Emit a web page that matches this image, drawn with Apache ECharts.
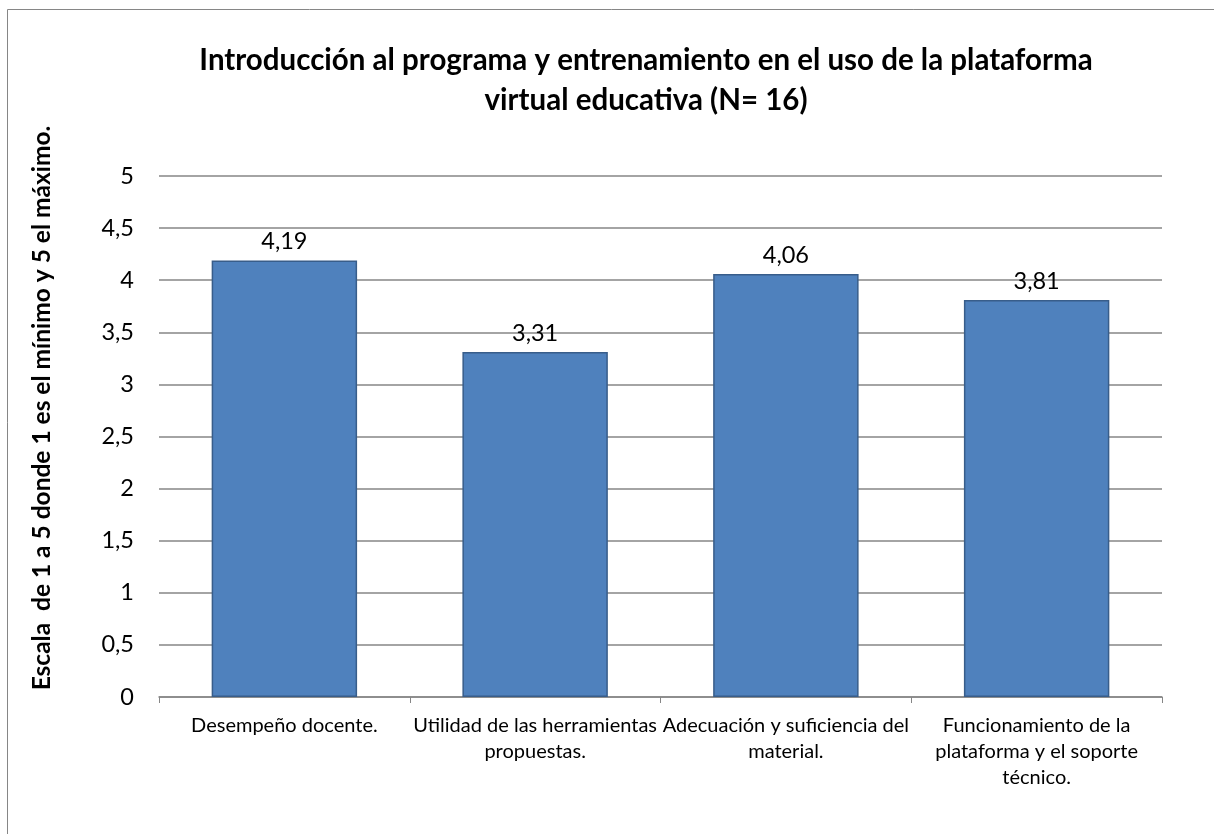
<!DOCTYPE html>
<html><head><meta charset="utf-8">
<script src="https://cdn.jsdelivr.net/npm/echarts@6/dist/echarts.min.js"></script>
<style>html,body{margin:0;padding:0;background:#fff}#c{width:1214px;height:834px}</style>
</head><body><div id="c"></div>
<script>
const titleText = 'Introducción al programa y entrenamiento en el uso de la plataforma\nvirtual educativa (N= 16)';
const yAxisName = 'Escala  de 1 a 5 donde 1 es el mínimo y 5 el máximo.';
const categories = ['Desempeño docente.', 'Utilidad de las herramientas\npropuestas.', 'Adecuación y suficiencia del\nmaterial.', 'Funcionamiento de la\nplataforma y el soporte\ntécnico.'];
const values = [4.19, 3.31, 4.06, 3.81];
const FONT = 'Lato';
const chart = echarts.init(document.getElementById('c'));
chart.setOption({
  backgroundColor: '#fff',
  animation: false,
  title: {
    text: titleText, left: 641, top: 35, textAlign: 'center',
    textStyle: {fontFamily: FONT, fontSize: 29.5, fontWeight: 'bold', color: '#000', lineHeight: 40}
  },
  graphic: [
    {type: 'rect', shape: {x: 7.5, y: 9.5, width: 1230, height: 850}, style: {fill: 'none', stroke: '#868686', lineWidth: 1}, silent: true, z: -1},
    {type: 'text', x: 42, y: 408, rotation: Math.PI / 2,
     style: {text: yAxisName, fontFamily: FONT, fontSize: 24.5, fontWeight: 'bold', fill: '#000', align: 'center', verticalAlign: 'middle'}}
  ],
  grid: {left: 159, right: 52, top: 176, bottom: 137, containLabel: false},
  xAxis: {
    type: 'category', data: categories,
    axisLine: {lineStyle: {color: '#868686', width: 1.5}},
    axisTick: {show: true, length: 6, lineStyle: {color: '#868686'}},
    axisLabel: {fontFamily: FONT, fontSize: 20, color: '#000', lineHeight: 26, margin: 16, interval: 0}
  },
  yAxis: {
    type: 'value', min: 0, max: 5, interval: 0.5,
    axisLine: {show: false}, axisTick: {show: false},
    splitLine: {lineStyle: {color: '#868686', width: 1.5}},
    axisLabel: {fontFamily: FONT, fontSize: 23.5, color: '#000', margin: 25,
      formatter: v => String(v).replace('.', ',')}
  },
  series: [{
    type: 'bar', data: values, barWidth: '58%',
    itemStyle: {color: '#4F81BD', borderColor: '#385D8A', borderWidth: 1.5},
    label: {show: true, position: 'top', distance: 7, fontFamily: FONT, fontSize: 23.5, color: '#000',
      formatter: p => String(p.value).replace('.', ',')}
  }]
});
</script></body></html>
